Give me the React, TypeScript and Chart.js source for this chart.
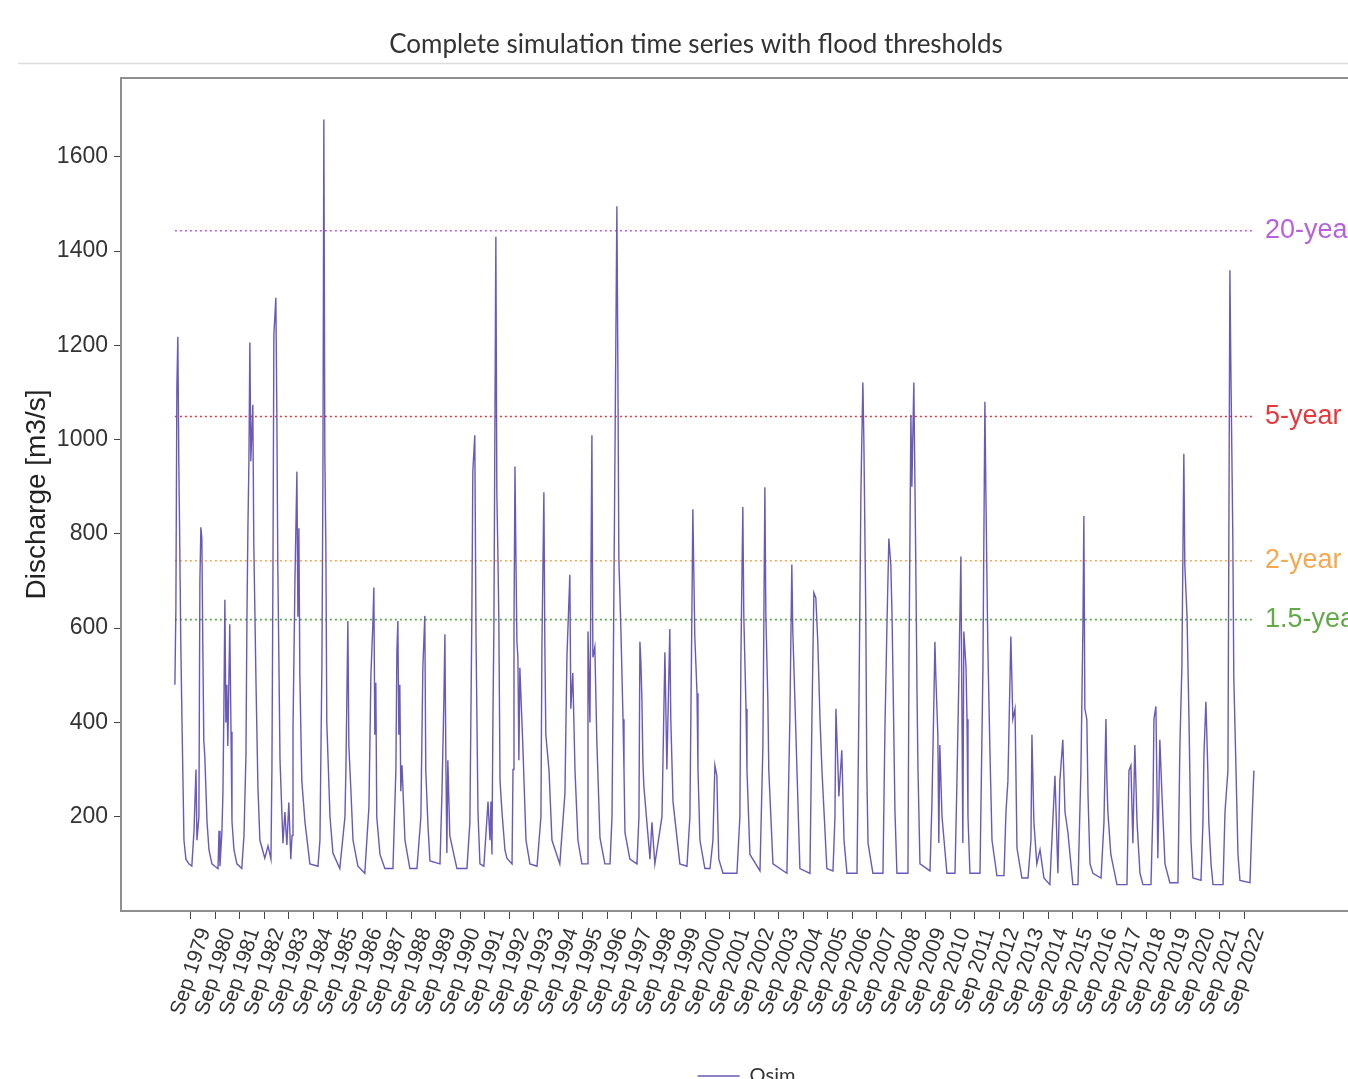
import { useEffect, useRef } from "react";
import { Chart, registerables } from "chart.js";

Chart.register(...registerables);

const TITLE = "Complete simulation time series with flood thresholds";
const Y_TITLE = "Discharge [m3/s]";
const SERIES_NAME = "Qsim";

// Dates as decimal years, grouped by hydrological season
const dates = [
  1979.01, 1979.05, 1979.09, 1979.13, 1979.17, 1979.21, 1979.25, 1979.30, 1979.38, 1979.46, 1979.58, 1979.70, 1979.79, 1979.87, 1979.91,
  1979.99, 1980.03, 1980.07, 1980.11, 1980.15, 1980.19, 1980.23, 1980.32, 1980.40, 1980.52, 1980.64, 1980.77, 1980.81, 1980.85,
  1980.93, 1980.97, 1981.01, 1981.05, 1981.09, 1981.13, 1981.17, 1981.25, 1981.30, 1981.34, 1981.42, 1981.54, 1981.74,
  1981.83, 1981.91, 1981.95, 1981.99, 1982.03, 1982.07, 1982.11, 1982.19, 1982.23, 1982.32, 1982.40, 1982.48, 1982.68, 1982.81, 1982.93,
  1982.97, 1983.01, 1983.05, 1983.13, 1983.17, 1983.21, 1983.30, 1983.42, 1983.50, 1983.58, 1983.66, 1983.74,
  1983.79, 1983.83, 1983.91, 1983.99, 1984.03, 1984.07, 1984.11, 1984.19, 1984.32, 1984.52, 1984.85,
  1984.93, 1985.01, 1985.05, 1985.09, 1985.13, 1985.17, 1985.21, 1985.34, 1985.46, 1985.74, 1985.95,
  1985.99, 1986.07, 1986.11, 1986.19, 1986.28, 1986.48, 1986.76,
  1986.93, 1987.01, 1987.09, 1987.13, 1987.17, 1987.21, 1987.25, 1987.38, 1987.58, 1987.91,
  1988.03, 1988.07, 1988.11, 1988.15, 1988.19, 1988.23, 1988.28, 1988.40, 1988.60, 1988.89,
  1989.05, 1989.13, 1989.21, 1989.25, 1989.34, 1989.42, 1989.83,
  1989.91, 1989.99, 1990.03, 1990.07, 1990.11, 1990.15, 1990.23, 1990.52, 1990.93,
  1991.05, 1991.13, 1991.17, 1991.25, 1991.30, 1991.38, 1991.46, 1991.62, 1991.79, 1991.87, 1991.91,
  1991.95, 1991.99, 1992.03, 1992.11, 1992.15, 1992.19, 1992.23, 1992.28, 1992.36, 1992.48, 1992.56, 1992.77,
  1992.81, 1992.85, 1992.89, 1992.93, 1992.97, 1993.01, 1993.05, 1993.09, 1993.21, 1993.34, 1993.50, 1993.79,
  1993.95, 1993.99, 1994.07, 1994.11, 1994.15, 1994.28, 1994.40, 1994.72,
  1994.93, 1995.01, 1995.13, 1995.17, 1995.25, 1995.34, 1995.46, 1995.62, 1995.83,
  1995.87, 1995.95, 1996.03, 1996.07, 1996.15, 1996.23, 1996.36, 1996.56, 1996.77,
  1996.85, 1996.89, 1997.05, 1997.09, 1997.13, 1997.21, 1997.30, 1997.34, 1997.38, 1997.58, 1997.87,
  1997.95, 1997.99, 1998.03, 1998.07, 1998.11, 1998.15, 1998.40, 1998.48, 1998.60,
  1998.89, 1999.01, 1999.09, 1999.21, 1999.25, 1999.34, 1999.62, 1999.91,
  2000.03, 2000.11, 2000.15, 2000.23, 2000.32, 2000.36, 2000.44, 2000.64, 2000.85,
  2000.97, 2001.05, 2001.13, 2001.17, 2001.21, 2001.38, 2001.95,
  2002.07, 2002.11, 2002.19, 2002.23, 2002.32, 2002.36, 2002.48, 2002.89,
  2003.01, 2003.09, 2003.13, 2003.21, 2003.25, 2003.42, 2003.99,
  2004.11, 2004.19, 2004.23, 2004.32, 2004.40, 2004.52, 2004.93,
  2005.01, 2005.09, 2005.17, 2005.25, 2005.34, 2005.42, 2005.62, 2005.87,
  2005.95, 2005.99, 2006.07, 2006.11, 2006.23, 2006.32, 2006.44, 2006.85,
  2006.93, 2007.01, 2007.05, 2007.09, 2007.13, 2007.21, 2007.25, 2007.30, 2007.50, 2007.91,
  2007.99, 2008.07, 2008.15, 2008.23, 2008.28, 2008.32, 2008.40, 2008.48, 2008.93,
  2008.97, 2009.05, 2009.09, 2009.17, 2009.25, 2009.30, 2009.34, 2009.42, 2009.83,
  2009.91, 2009.99, 2010.03, 2010.07, 2010.15, 2010.19, 2010.23, 2010.32, 2010.52, 2010.85,
  2010.93, 2011.01, 2011.09, 2011.17, 2011.21, 2011.30, 2011.34, 2011.38, 2011.46, 2011.87,
  2011.99, 2012.07, 2012.11, 2012.19, 2012.28, 2012.36, 2012.56, 2012.85,
  2012.93, 2013.01, 2013.13, 2013.21, 2013.30, 2013.38, 2013.58, 2013.83,
  2013.95, 2013.99, 2014.07, 2014.19, 2014.32, 2014.48, 2014.72,
  2014.93, 2015.05, 2015.13, 2015.25, 2015.34, 2015.46, 2015.66, 2015.87,
  2015.99, 2016.07, 2016.11, 2016.15, 2016.23, 2016.28, 2016.36, 2016.48, 2016.81,
  2016.93, 2017.01, 2017.05, 2017.09, 2017.21, 2017.46, 2017.87,
  2017.95, 2018.03, 2018.11, 2018.19, 2018.28, 2018.40, 2018.52, 2018.85,
  2018.93, 2018.97, 2019.05, 2019.13, 2019.21, 2019.30, 2019.42, 2019.62, 2019.95,
  2020.03, 2020.11, 2020.19, 2020.23, 2020.32, 2020.40, 2020.48, 2020.56, 2020.89,
  2020.97, 2021.01, 2021.09, 2021.17, 2021.21, 2021.30, 2021.38, 2021.79,
  2021.87, 2021.99, 2022.07, 2022.11, 2022.19, 2022.23, 2022.32, 2022.40, 2022.48, 2022.89, 2022.97, 2023.05,
];

// Simulated discharge [m3/s], same order as dates
const qsim = [
  480, 640, 1110, 1218, 950, 770, 570, 400, 150, 110, 100, 95, 170, 300, 150,
  200, 700, 814, 790, 560, 360, 330, 190, 130, 100, 95, 90, 170, 95,
  170, 250, 430, 660, 400, 480, 350, 608, 380, 190, 130, 100, 90,
  160, 330, 620, 812, 950, 1206, 954, 1074, 780, 484, 260, 150, 112, 138, 110,
  300, 700, 1222, 1301, 1063, 735, 320, 144, 210, 140, 230, 110,
  160, 384, 702, 932, 624, 812, 500, 276, 188, 100, 95,
  150, 522, 900, 1679, 965, 780, 400, 200, 123, 90, 199,
  300, 615, 350, 260, 150, 95, 80,
  221, 500, 609, 686, 374, 484, 199, 120, 90, 90,
  300, 550, 615, 374, 480, 254, 309, 150, 90, 90,
  200, 516, 626, 298, 180, 106, 100,
  250, 450, 587, 320, 123, 320, 160, 90, 90,
  188, 626, 932, 1009, 582, 210, 100, 95, 232, 150, 232,
  120, 407, 600, 1430, 888, 768, 626, 276, 210, 130, 112, 100,
  300, 600, 943, 746, 571, 538, 320, 516, 352, 150, 100, 95,
  200, 560, 888, 560, 374, 298, 150, 100,
  250, 538, 713, 429, 505, 298, 150, 100, 100,
  593, 400, 1009, 538, 560, 363, 155, 100, 100,
  200, 429, 1495, 1151, 746, 604, 407, 298, 166, 110, 100,
  200, 571, 527, 451, 320, 265, 110, 188, 100,
  200, 549, 300, 598, 407, 232, 100, 95,
  200, 626, 852, 582, 462, 298, 150, 90, 90,
  150, 309, 287, 188, 110, 80, 80,
  200, 527, 857, 626, 429, 298, 120, 85,
  352, 899, 626, 451, 298, 100, 80,
  407, 735, 593, 440, 298, 90, 80,
  407, 675, 664, 571, 407, 298, 90, 85,
  200, 429, 309, 243, 341, 150, 80, 80,
  440, 888, 1009, 1121, 1000, 626, 298, 144, 80, 80,
  385, 600, 790, 735, 626, 494, 210, 80, 80,
  516, 1052, 900, 1121, 735, 462, 298, 100, 85,
  232, 450, 571, 494, 374, 144, 352, 200, 80, 80,
  276, 500, 752, 144, 593, 516, 407, 200, 80, 80,
  516, 1080, 888, 560, 330, 150, 75, 75,
  210, 276, 582, 407, 429, 133, 70, 70,
  150, 374, 188, 100, 130, 70, 56,
  287, 80, 276, 363, 210, 166, 56, 56,
  298, 600, 838, 429, 407, 243, 100, 80, 70,
  188, 407, 276, 210, 120, 56, 56,
  298, 309, 144, 352, 188, 80, 56, 56,
  221, 407, 434, 112, 363, 243, 100, 60, 60,
  352, 516, 970, 735, 626, 407, 150, 70, 65,
  188, 330, 444, 298, 188, 100, 56, 56,
  210, 298, 1359, 1151, 790, 494, 298, 120, 65, 60, 188, 298,
];

const thresholdNames = ["20-year", "5-year", "2-year", "1.5-year"];
const thresholdValues = [1443, 1049, 743, 618];
const thresholdColors = ["#b762db", "#e5383b", "#f4a850", "#62aa48"];

const tickLabels = [
  "Sep 1979", "Sep 1980", "Sep 1981", "Sep 1982", "Sep 1983", "Sep 1984", "Sep 1985", "Sep 1986",
  "Sep 1987", "Sep 1988", "Sep 1989", "Sep 1990", "Sep 1991", "Sep 1992", "Sep 1993", "Sep 1994",
  "Sep 1995", "Sep 1996", "Sep 1997", "Sep 1998", "Sep 1999", "Sep 2000", "Sep 2001", "Sep 2002",
  "Sep 2003", "Sep 2004", "Sep 2005", "Sep 2006", "Sep 2007", "Sep 2008", "Sep 2009", "Sep 2010",
  "Sep 2011", "Sep 2012", "Sep 2013", "Sep 2014", "Sep 2015", "Sep 2016", "Sep 2017", "Sep 2018",
  "Sep 2019", "Sep 2020", "Sep 2021", "Sep 2022",
];
const yTickValues = [200, 400, 600, 800, 1000, 1200, 1400, 1600];

const SEP_OFFSET = 243 / 365; // 1 September as fraction of year
const AXIS_FONT = "'Liberation Sans', Arial, sans-serif";
const TEXT_FONT = "Lato, 'Open Sans', sans-serif";

const CANVAS_W = 1390;
const CANVAS_H = 1096;

export default function App() {
  const canvasRef = useRef<HTMLCanvasElement | null>(null);

  useEffect(() => {
    const canvas = canvasRef.current;
    if (!canvas) return;
    const n = Math.min(dates.length, qsim.length);
    const points = [];
    for (let i = 0; i < n; i++) points.push({ x: dates[i], y: qsim[i] });
    const first = dates[0];
    const last = dates[n - 1];

    const thresholdSets = thresholdValues.map((v, i) => ({
      label: thresholdNames[i],
      data: [
        { x: first, y: v },
        { x: last, y: v },
      ],
      borderColor: thresholdColors[i],
      borderWidth: 1.6,
      borderDash: [2, 3],
      pointRadius: 0,
      fill: false,
    }));

    const decor = {
      id: "decor",
      beforeDraw(chart: any) {
        const ctx = chart.ctx;
        ctx.save();
        ctx.fillStyle = "#ffffff";
        ctx.fillRect(0, 0, chart.width, chart.height);
        // figure title and its rule
        ctx.fillStyle = "#333333";
        ctx.font = `26px ${TEXT_FONT}`;
        ctx.textAlign = "center";
        ctx.textBaseline = "middle";
        ctx.fillText(TITLE, 696, 45);
        ctx.strokeStyle = "#dcdcdc";
        ctx.lineWidth = 1.5;
        ctx.beginPath();
        ctx.moveTo(18, 63.5);
        ctx.lineTo(chart.width, 63.5);
        ctx.stroke();
        ctx.restore();
      },
      afterDraw(chart: any) {
        const ctx = chart.ctx;
        const { left, right, top, bottom } = chart.chartArea;
        ctx.save();
        ctx.strokeStyle = "#8f8f8f";
        ctx.lineWidth = 2;
        ctx.beginPath();
        ctx.moveTo(left, top);
        ctx.lineTo(right, top);
        ctx.lineTo(right, bottom);
        ctx.stroke();
        const xs = chart.scales.x;
        const ys = chart.scales.y;
        ctx.font = `27px ${AXIS_FONT}`;
        ctx.textAlign = "left";
        ctx.textBaseline = "middle";
        thresholdValues.forEach((v, i) => {
          ctx.fillStyle = thresholdColors[i];
          ctx.fillText(thresholdNames[i], xs.getPixelForValue(last) + 11, ys.getPixelForValue(v));
        });
        ctx.restore();
      },
    };

    const chart = new Chart(canvas, {
      type: "line",
      data: {
        datasets: [
          {
            label: SERIES_NAME,
            data: points,
            borderColor: "rgba(90,70,178,0.9)",
            backgroundColor: "rgba(90,70,178,0.9)",
            borderWidth: 1.4,
            pointRadius: 0,
            tension: 0,
            fill: false,
          },
          ...thresholdSets,
        ],
      },
      options: {
        responsive: false,
        animation: false,
        devicePixelRatio: 1,
        layout: { padding: { left: 0, right: 18, top: 78, bottom: 0 } },
        plugins: {
          title: { display: false },
          legend: {
            display: true,
            position: "bottom",
            fullSize: false,
            labels: {
              filter: (item: any) => item.datasetIndex === 0,
              usePointStyle: true,
              pointStyle: "line",
              pointStyleWidth: 42,
              color: "#333333",
              font: { family: TEXT_FONT, size: 20 },
              padding: 10,
            },
          },
          tooltip: { enabled: false },
        },
        scales: {
          x: {
            type: "linear",
            min: 1976.81,
            max: 2027.87,
            afterBuildTicks: (scale: any) => {
              scale.ticks = tickLabels.map((lab) => ({
                value: parseInt(lab.slice(4), 10) + SEP_OFFSET,
              }));
            },
            afterFit: (scale: any) => {
              scale.height = 145;
            },
            ticks: {
              autoSkip: false,
              minRotation: 72,
              maxRotation: 72,
              padding: 6,
              labelOffset: 14,
              color: "#333333",
              font: { family: AXIS_FONT, size: 21 },
              callback: (_v: any, i: number) => tickLabels[i],
            },
            grid: {
              drawOnChartArea: false,
              drawTicks: true,
              tickLength: 8,
              color: "#444444",
            },
            border: { display: true, color: "#8f8f8f", width: 2 },
          },
          y: {
            type: "linear",
            min: 0,
            max: 1767,
            afterBuildTicks: (scale: any) => {
              scale.ticks = yTickValues.map((v) => ({ value: v }));
            },
            afterFit: (scale: any) => {
              scale.width = 121;
            },
            ticks: {
              padding: 6,
              color: "#333333",
              font: { family: AXIS_FONT, size: 23 },
              callback: (v: any) => String(v),
            },
            title: {
              display: true,
              text: Y_TITLE,
              color: "#222222",
              font: { family: AXIS_FONT, size: 28 },
              padding: { top: 20, bottom: 0 },
            },
            grid: {
              drawOnChartArea: false,
              drawTicks: true,
              tickLength: 7,
              color: "#444444",
            },
            border: { display: true, color: "#8f8f8f", width: 2 },
          },
        },
      },
      plugins: [decor],
    } as any);

    return () => chart.destroy();
  }, []);

  return (
    <div
      style={{
        position: "absolute",
        left: 0,
        top: 0,
        width: 1348,
        height: 1079,
        overflow: "hidden",
        background: "#ffffff",
      }}
    >
      <canvas
        ref={canvasRef}
        width={CANVAS_W}
        height={CANVAS_H}
        style={{ display: "block", width: CANVAS_W, height: CANVAS_H }}
      />
    </div>
  );
}
